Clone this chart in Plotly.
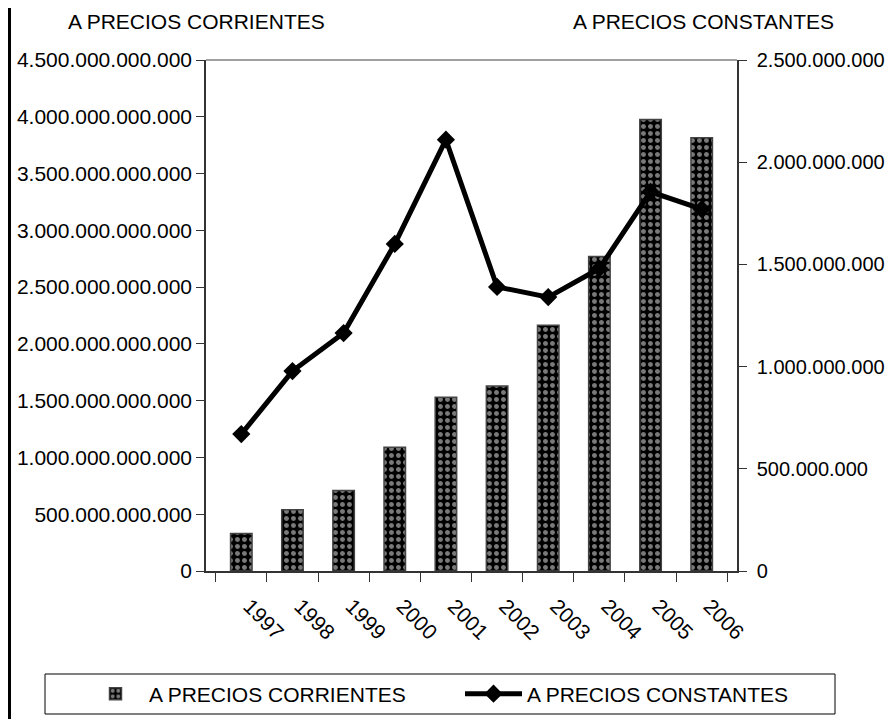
import plotly.graph_objects as go

years = ["1997", "1998", "1999", "2000", "2001", "2002", "2003", "2004", "2005", "2006"]
corrientes = [330e9, 540e9, 710e9, 1090e9, 1530e9, 1630e9, 2165e9, 2770e9, 3975e9, 3815e9]
constantes = [0.670e9, 0.978e9, 1.164e9, 1.600e9, 2.110e9, 1.390e9, 1.340e9, 1.480e9, 1.855e9, 1.770e9]

left_ticks = [i * 0.5e12 for i in range(10)]
right_ticks = [i * 0.5e9 for i in range(6)]

FONT = "Liberation Sans, Arial, sans-serif"
OFF = 8                      # page body margin
W, H = 895 - OFF, 719 - OFF  # figure size
L, R, T, B = 206, 737, 60, 571  # plot area in screen pixels
pw, ph = R - L, B - T

def px(x):
    return (x - L) / pw

def py(y):
    return (B - y) / ph

def cx(x):
    return (x - OFF) / W

def cy(y):
    return 1 - (y - OFF) / H

fig = go.Figure()
fig.add_trace(go.Bar(
    x=years, y=corrientes, name="A PRECIOS CORRIENTES", yaxis="y", legend="legend",
    marker=dict(color="black", line=dict(color="#444444", width=1.5),
                pattern=dict(shape=".", fgcolor="#f2f2f2", bgcolor="black",
                             size=7, solidity=0.4, fillmode="overlay")),
))
fig.add_trace(go.Scatter(
    x=years, y=constantes, name="A PRECIOS CONSTANTES", yaxis="y2", legend="legend2",
    mode="lines+markers", line=dict(color="black", width=5),
    marker=dict(symbol="diamond", size=14, color="black"),
))

legend_common = dict(orientation="h", xref="container", yref="container",
                     xanchor="left", yanchor="middle", borderwidth=0,
                     bgcolor="rgba(0,0,0,0)", font=dict(size=21), itemwidth=57)

fig.update_layout(
    width=W, height=H,
    margin=dict(l=L - OFF, r=W - (R - OFF), t=T - OFF, b=H - (B - OFF), pad=0,
                autoexpand=False),
    paper_bgcolor="white", plot_bgcolor="white",
    font=dict(family=FONT, size=21, color="black"),
    separators=",.",
    bargap=0.58,
    showlegend=True,
    legend=dict(legend_common, x=cx(82), y=cy(694)),
    legend2=dict(legend_common, x=cx(460), y=cy(694)),
    xaxis=dict(type="category", showline=True, linecolor="#333333", linewidth=1.5,
               ticks="outside", ticklen=9, tickcolor="#333333", tickson="boundaries",
               tickangle=45, tickfont=dict(size=21), showgrid=False, zeroline=False,
               ticklabelstandoff=13, ticklabelshift=8),
    yaxis=dict(range=[0, 4.5e12], tickvals=left_ticks, tickformat=",d",
               showline=True, linecolor="#333333", linewidth=1.5, ticks="outside",
               ticklen=8, tickcolor="#333333", showgrid=False, zeroline=False,
               tickfont=dict(size=21)),
    yaxis2=dict(range=[0, 2.5e9], tickvals=right_ticks, tickformat=",d", overlaying="y",
                side="right", showline=True, linecolor="#333333", linewidth=1.5,
                ticks="outside", ticklen=8, tickcolor="#333333", showgrid=False,
                zeroline=False, tickfont=dict(size=20), ticklabelstandoff=6),
    annotations=[
        dict(text="A PRECIOS CORRIENTES", x=px(196), y=py(22), xref="paper", yref="paper",
             xanchor="center", yanchor="middle", showarrow=False, font=dict(size=21)),
        dict(text="A PRECIOS CONSTANTES", x=px(703), y=py(22), xref="paper", yref="paper",
             xanchor="center", yanchor="middle", showarrow=False, font=dict(size=21)),
    ],
    shapes=[
        dict(type="line", xref="paper", yref="paper", x0=0, x1=1, y0=1, y1=1,
             line=dict(color="#808080", width=1.5)),
        dict(type="line", xref="paper", yref="paper", x0=px(OFF + 1.5), x1=px(OFF + 1.5),
             y0=py(OFF), y1=py(719), line=dict(color="black", width=3)),
        dict(type="rect", xref="paper", yref="paper", x0=px(45), x1=px(835),
             y0=py(714), y1=py(674), line=dict(color="black", width=1)),
    ],
)

fig.write_html("out.html")
